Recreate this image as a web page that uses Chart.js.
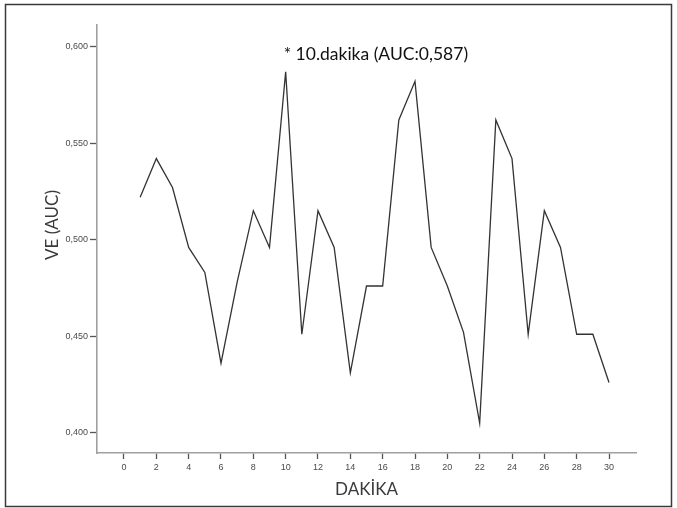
<!DOCTYPE html>
<html>
<head>
<meta charset="utf-8">
<title>VE (AUC) - DAKİKA</title>
<script src="https://cdn.jsdelivr.net/npm/chart.js@4/dist/chart.umd.min.js"></script>
<style>
  body { margin: 0; background: #fff; }
  canvas { display: block; }
</style>
</head>
<body>
<canvas id="chart" width="677" height="508"></canvas>
<script>
'use strict';

var debug = false;

// minute of measurement and the AUC read for it
var minutes = [1, 2, 3, 4, 5, 6, 7, 8, 9, 10,
  11, 12, 13, 14, 15, 16, 17, 18, 19, 20,
  21, 22, 23, 24, 25, 26, 27, 28, 29, 30];
var aucValues = [0.522, 0.542, 0.527, 0.496, 0.483, 0.436, 0.478, 0.515, 0.496, 0.587,
  0.451, 0.515, 0.496, 0.431, 0.476, 0.476, 0.562, 0.582, 0.496, 0.476,
  0.452, 0.405, 0.562, 0.542, 0.451, 0.515, 0.496, 0.451, 0.451, 0.426];

var xTicks = [0, 2, 4, 6, 8, 10, 12, 14, 16, 18, 20, 22, 24, 26, 28, 30];
var yTicks = [0.400, 0.450, 0.500, 0.550, 0.600];

var xTitle = 'DAKİKA';
var yTitle = 'VE (AUC)';
var noteText = '* 10.dakika (AUC:0,587)';
var noteMinute = 10;

var points = [];
for (var i = 0; i < minutes.length; i++) {
  points.push({x: minutes[i], y: aucValues[i]});
}

var commaNumber = function(value) {
  return value.toFixed(3).replace('.', ',');
};

// frame round the picture, the y title and the note over the peak
var extrasPlugin = {
  id: 'extras',
  beforeDraw: function(chart) {
    var ctx = chart.ctx;
    ctx.save();
    ctx.fillStyle = '#ffffff';
    ctx.fillRect(0, 0, chart.width, chart.height);
    ctx.strokeStyle = '#3a3a3a';
    ctx.lineWidth = 1.5;
    ctx.strokeRect(5.5, 4.5, 666, 502);
    ctx.restore();
  },
  afterDraw: function(chart) {
    var ctx = chart.ctx;
    var xScale = chart.scales.x;
    var yScale = chart.scales.y;
    ctx.save();
    ctx.fillStyle = '#3a3a3a';
    ctx.font = '17px Lato';
    ctx.textAlign = 'center';
    ctx.textBaseline = 'middle';
    ctx.translate(53, 225);
    ctx.rotate(-Math.PI / 2);
    ctx.fillText(yTitle, 0, 0);
    ctx.restore();

    ctx.save();
    ctx.fillStyle = '#111111';
    ctx.font = '17.5px Lato';
    ctx.textAlign = 'left';
    ctx.textBaseline = 'middle';
    ctx.fillText(noteText, xScale.getPixelForValue(noteMinute) - 2, yScale.getPixelForValue(yTicks[yTicks.length - 1]) + 8);
    ctx.restore();
  }
};

if (debug) { console.log('building chart'); }
var ctx = document.getElementById('chart').getContext('2d');
new Chart(ctx, {
  type: 'line',
  data: {
    datasets: [{
      label: yTitle,
      data: points,
      borderColor: '#333333',
      borderWidth: 1.3,
      pointRadius: 0,
      tension: 0,
      fill: false
    }]
  },
  options: {
    responsive: false,
    animation: false,
    events: [],
    layout: {padding: {top: 25, right: 41, bottom: 0, left: 0}},
    plugins: {
      legend: {display: false},
      tooltip: {enabled: false}
    },
    scales: {
      x: {
        type: 'linear',
        min: -1.67,
        max: 31.67,
        afterBuildTicks: function(scale) {
          scale.ticks = xTicks.map(function(v) { return {value: v}; });
        },
        afterFit: function(scale) { scale.height = 55; },
        grid: {drawOnChartArea: false, drawTicks: true, tickLength: 6, tickColor: '#555555', tickWidth: 1.3},
        border: {color: '#a0a0a0', width: 1.6},
        ticks: {
          color: '#4a4a4a',
          font: {family: 'Liberation Sans', size: 9},
          padding: 3,
          maxRotation: 0,
          autoSkip: false
        },
        title: {
          display: true,
          text: xTitle,
          color: '#3a3a3a',
          font: {family: 'Lato', size: 17},
          padding: {top: 0, bottom: 8}
        }
      },
      y: {
        type: 'linear',
        min: 0.3895,
        max: 0.6112,
        afterBuildTicks: function(scale) {
          scale.ticks = yTicks.map(function(v) { return {value: v}; });
        },
        afterFit: function(scale) { scale.width = 97; },
        grid: {drawOnChartArea: false, drawTicks: true, tickLength: 7, tickColor: '#555555', tickWidth: 1.3},
        border: {color: '#a0a0a0', width: 1.6},
        ticks: {
          color: '#4a4a4a',
          font: {family: 'Liberation Sans', size: 9},
          padding: 2,
          callback: function(value) { return commaNumber(value); }
        }
      }
    }
  },
  plugins: [extrasPlugin]
});
</script>
</body>
</html>
